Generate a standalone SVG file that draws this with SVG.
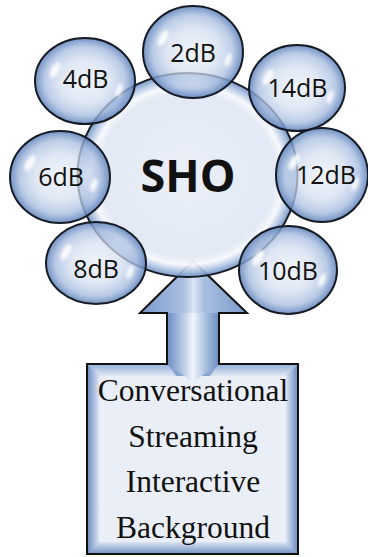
<svg xmlns="http://www.w3.org/2000/svg" width="368" height="557" viewBox="0 0 368 557">
<defs>
<radialGradient id="bub" cx="50%" cy="50%" r="50%">
<stop offset="0" stop-color="#eaf0f8" stop-opacity="0.7"/>
<stop offset="0.5" stop-color="#d3deef" stop-opacity="0.72"/>
<stop offset="0.8" stop-color="#a8bde0" stop-opacity="0.78"/>
<stop offset="1" stop-color="#5f82bb" stop-opacity="0.88"/>
</radialGradient>
<radialGradient id="main" cx="50%" cy="50%" r="50%">
<stop offset="0" stop-color="#e9eef7" stop-opacity="0.95"/>
<stop offset="0.8" stop-color="#e1e8f4" stop-opacity="0.95"/>
<stop offset="0.88" stop-color="#f6f8fd" stop-opacity="0.95"/>
<stop offset="0.94" stop-color="#b3c6e4" stop-opacity="0.9"/>
<stop offset="1" stop-color="#6e8fc4" stop-opacity="0.92"/>
</radialGradient>
<linearGradient id="shaft" x1="0" y1="0" x2="1" y2="0">
<stop offset="0" stop-color="#6f90c3"/>
<stop offset="0.3" stop-color="#b7cae6"/>
<stop offset="0.5" stop-color="#f2f6fc"/>
<stop offset="0.7" stop-color="#b7cae6"/>
<stop offset="1" stop-color="#6f90c3"/>
</linearGradient>
<linearGradient id="head" x1="0" y1="0" x2="1" y2="0">
<stop offset="0" stop-color="#7b9acb"/>
<stop offset="0.4" stop-color="#a9bfe1"/>
<stop offset="0.5" stop-color="#dbe5f3"/>
<stop offset="0.6" stop-color="#a9bfe1"/>
<stop offset="1" stop-color="#7b9acb"/>
</linearGradient>
<linearGradient id="bevL" x1="0" y1="0" x2="1" y2="0">
<stop offset="0" stop-color="#7091c4"/>
<stop offset="1" stop-color="#dae4f2"/>
</linearGradient>
<linearGradient id="bevR" x1="1" y1="0" x2="0" y2="0">
<stop offset="0" stop-color="#7091c4"/>
<stop offset="1" stop-color="#dae4f2"/>
</linearGradient>
<linearGradient id="bevB" x1="0" y1="1" x2="0" y2="0">
<stop offset="0" stop-color="#7a98c8"/>
<stop offset="1" stop-color="#dae4f2"/>
</linearGradient>
<linearGradient id="bevT" x1="0" y1="0" x2="0" y2="1">
<stop offset="0" stop-color="#9bb3db"/>
<stop offset="1" stop-color="#dfe7f3"/>
</linearGradient>
<filter id="blur" x="-50%" y="-50%" width="200%" height="200%">
<feGaussianBlur stdDeviation="1.5"/>
</filter>
</defs>
<style>
.ring{stroke:#161b24;stroke-width:2}
.bub{fill:url(#bub)}
.gl{fill:#ffffff;opacity:0.85;filter:url(#blur)}
.lbl{font-family:"Open Sans","Noto Sans",sans-serif;font-size:25px;fill:#111;text-anchor:middle}
.sho{font-family:"Open Sans","Noto Sans",sans-serif;font-size:45px;font-weight:bold;fill:#111;text-anchor:middle}
.box{font-family:"Liberation Serif","Times New Roman",serif;font-size:31.5px;fill:#111;text-anchor:middle}
</style>

<g id="box">
<path d="M87,554 V364 H167 V313 H140 L193,261 L247,313 H219 V364 H298 V554 Z" fill="#89a6d1"/>
<rect x="99" y="376" width="187" height="166" fill="#e9eef7"/>
<polygon points="88,365 99,376 99,542 88,553" fill="url(#bevL)"/>
<polygon points="297,365 286,376 286,542 297,553" fill="url(#bevR)"/>
<polygon points="88,553 99,542 286,542 297,553" fill="url(#bevB)"/>
<polygon points="88,365 168,365 176,376 99,376" fill="url(#bevT)"/>
<polygon points="218,365 297,365 286,376 210,376" fill="url(#bevT)"/>
<polygon points="168,313 218,313 218,365 193,382 168,365" fill="url(#shaft)"/>
<polygon points="141,313 193,262 246,313" fill="url(#head)"/>
<path d="M87,554 V364 H167 V313 H140 L193,261 L247,313 H219 V364 H298 V554 Z" fill="none" stroke="#111" stroke-width="2" stroke-linejoin="miter"/>
<text class="box" x="193" y="401">Conversational</text>
<text class="box" x="193" y="447">Streaming</text>
<text class="box" x="193" y="492">Interactive</text>
<text class="box" x="193" y="538">Background</text>
</g>

<g id="sho">
<ellipse class="ring" cx="187.5" cy="175" rx="110" ry="102" fill="url(#main)"/>
<text class="sho" x="188" y="192">SHO</text>
</g>

<g id="n2dB">
<ellipse class="ring bub" cx="193" cy="52" rx="50" ry="46"/>
<ellipse class="gl" cx="163" cy="38" rx="4" ry="9" transform="rotate(30 163 38)"/>
<ellipse class="gl" cx="228" cy="60" rx="3" ry="7" transform="rotate(20 228 60)"/>
<text class="lbl" x="193" y="62">2dB</text>
</g>
<g id="n4dB">
<ellipse class="ring bub" cx="85" cy="81" rx="50" ry="43"/>
<ellipse class="gl" cx="55" cy="70" rx="4" ry="9" transform="rotate(30 55 70)"/>
<ellipse class="gl" cx="119" cy="90" rx="3" ry="7" transform="rotate(20 119 90)"/>
<text class="lbl" x="85.5" y="88">4dB</text>
</g>
<g id="n14dB">
<ellipse class="ring bub" cx="297" cy="88" rx="48" ry="43"/>
<ellipse class="gl" cx="268" cy="77" rx="4" ry="9" transform="rotate(30 268 77)"/>
<ellipse class="gl" cx="330" cy="97" rx="3" ry="7" transform="rotate(20 330 97)"/>
<text class="lbl" x="297.5" y="97">14dB</text>
</g>
<g id="n6dB">
<ellipse class="ring bub" cx="60" cy="177" rx="50" ry="46"/>
<ellipse class="gl" cx="30" cy="163" rx="4" ry="9" transform="rotate(30 30 163)"/>
<ellipse class="gl" cx="94" cy="185" rx="3" ry="7" transform="rotate(20 94 185)"/>
<text class="lbl" x="61" y="186">6dB</text>
</g>
<g id="n12dB">
<ellipse class="ring bub" cx="322" cy="175" rx="46" ry="47"/>
<ellipse class="gl" cx="294" cy="162" rx="4" ry="9" transform="rotate(30 294 162)"/>
<ellipse class="gl" cx="355" cy="184" rx="3" ry="7" transform="rotate(20 355 184)"/>
<text class="lbl" x="326" y="184">12dB</text>
</g>
<g id="n8dB">
<ellipse class="ring bub" cx="96" cy="263" rx="50" ry="41"/>
<ellipse class="gl" cx="66" cy="252" rx="4" ry="9" transform="rotate(30 66 252)"/>
<ellipse class="gl" cx="130" cy="272" rx="3" ry="7" transform="rotate(20 130 272)"/>
<text class="lbl" x="96" y="278">8dB</text>
</g>
<g id="n10dB">
<ellipse class="ring bub" cx="288" cy="270" rx="49" ry="44"/>
<ellipse class="gl" cx="258" cy="258" rx="4" ry="9" transform="rotate(30 258 258)"/>
<ellipse class="gl" cx="322" cy="280" rx="3" ry="7" transform="rotate(20 322 280)"/>
<text class="lbl" x="288" y="280">10dB</text>
</g>
</svg>
